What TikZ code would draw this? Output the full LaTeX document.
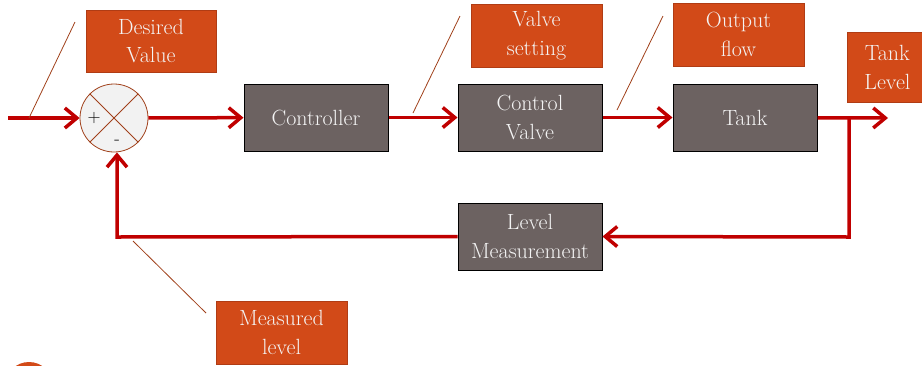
\documentclass[tikz,border=0pt]{standalone}
\usepackage{fontspec}
\setmainfont{Latin Modern Roman}
\usetikzlibrary{arrows.meta}
\definecolor{lbl}{HTML}{D24A18}
\definecolor{lblborder}{HTML}{B03C14}
\definecolor{blk}{HTML}{6C6261}
\definecolor{sig}{HTML}{C00000}
\definecolor{txt}{HTML}{F4F4F4}
\definecolor{junc}{HTML}{F2F2F2}
\definecolor{callcol}{HTML}{A0401A}
\tikzset{
  labelbox/.style={draw=lblborder, line width=0.8pt, fill=lbl, text=txt, align=center, font=\fontsize{22}{28.5}\selectfont, inner sep=0pt},
  blockbox/.style={draw=black, line width=1pt, fill=blk, text=txt, align=center, font=\fontsize{22}{28.5}\selectfont, inner sep=0pt},
  sigline/.style={draw=sig, line width=3.5pt, -{Straight Barb[length=12pt,width=20pt,line width=3.5pt]}},
  callout/.style={draw=callcol, line width=0.8pt}
}
\begin{document}
\begin{tikzpicture}[x=1pt,y=-1pt]
\useasboundingbox (0,0) rectangle (922,365);
% partial circle at bottom-left
\fill[lbl] (29,386) circle (24);
% label boxes
\node[labelbox, minimum width=130pt, minimum height=62pt] (desired) at (151,41) {Desired\\Value};
\node[labelbox, minimum width=131pt, minimum height=63pt] (valveset) at (536.5,35.5) {Valve\\setting};
\node[labelbox, minimum width=131pt, minimum height=63pt] (outflow) at (738.5,34.5) {Output\\flow};
\node[labelbox, minimum width=80pt, minimum height=70pt, anchor=north west] (tanklevel) at (847,32) {Tank\\Level};
\node[labelbox, minimum width=131pt, minimum height=63pt] (measured) at (281.5,332.5) {Measured\\level};
% blocks
\node[blockbox, minimum width=144pt, minimum height=67pt] (ctrl) at (316,117.5) {Controller};
\node[blockbox, minimum width=144pt, minimum height=67pt] (valve) at (530,117.5) {Control\\Valve};
\node[blockbox, minimum width=144pt, minimum height=67pt] (tank) at (745,117.5) {Tank};
\node[blockbox, minimum width=144pt, minimum height=67pt] (meas) at (530,236.5) {Level\\Measurement};
% summing junction
\node[circle, draw=callcol, line width=0.8pt, fill=junc, minimum size=68pt, inner sep=0pt] (sum) at (114,118) {};
\draw[callout] (sum.north west) -- (sum.south east) (sum.north east) -- (sum.south west);
\node[font=\fontsize{18}{18}\selectfont] (plus) at (94,118) {+};
\node[font=\fontsize{18}{18}\selectfont] (minus) at (117,142) {-};
% coordinates
\coordinate (in) at (8,118);
\coordinate (out) at (888,118);
\coordinate (branch) at (849,118);
\coordinate (branchdn) at (849,237);
\coordinate (fbcorner) at (117,237);
% signals
\draw[sigline] (in) -- (sum);
\draw[sigline] (sum) -- (ctrl);
\draw[sigline] (ctrl) -- (valve);
\draw[sigline] (valve) -- (tank);
\draw[sigline] (tank) -- (out);
\draw[sigline, line join=miter] (branch) -- (branchdn) -- (meas.east);
\draw[sigline, line join=miter] (meas.west) -- (fbcorner) -- (fbcorner |- sum.south);
% callouts
\coordinate (c1a) at (29,118); \coordinate (c1b) at (75,22);
\coordinate (c2a) at (413,113); \coordinate (c2b) at (460,16);
\coordinate (c3a) at (617,110); \coordinate (c3b) at (663,16);
\coordinate (c4a) at (133,241); \coordinate (c4b) at (206,313);
\draw[callout] (c1a) -- (c1b);
\draw[callout] (c2a) -- (c2b);
\draw[callout] (c3a) -- (c3b);
\draw[callout] (c4a) -- (c4b);
\end{tikzpicture}
\end{document}
